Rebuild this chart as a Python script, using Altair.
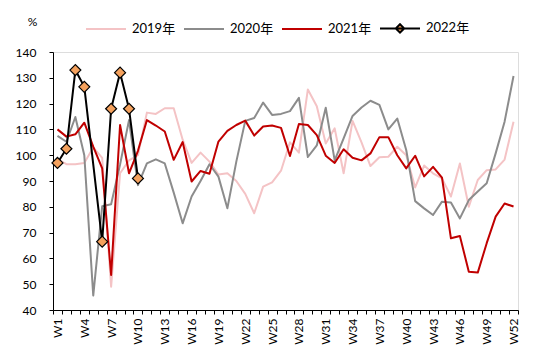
import altair as alt
import pandas as pd

weeks = list(range(1, 53))
series_names = ["2019年", "2020年", "2021年", "2022年"]

v2019 = [98.5, 96.5, 96.5, 97, 103, 99, 49, 93, 98, 100,
         116.5, 116, 118.2, 118.2, 106, 97, 101, 97.5, 92.5, 93,
         90, 85, 77.5, 87.8, 89.5, 94, 105, 101, 125.5, 119,
         104.5, 110.4, 93, 113.3, 105, 95.8, 99.2, 99.4, 103.3, 100,
         87.5, 96, 93, 91, 84, 96.8, 80, 90.4, 94.2, 94.5,
         98.3, 113]
v2020 = [107.5, 105.2, 114.8, 100, 45.6, 80.2, 81, 96.4, 113.6, 88.4,
         96.8, 98.4, 96.8, 85.5, 73.6, 84, 90, 96.5, 91.7, 79.4,
         97.5, 113.3, 114.4, 120.4, 115.6, 116, 117.1, 122.2, 99.3, 103.8,
         118.4, 98, 106.5, 115.2, 118.5, 121.1, 119.5, 110, 114.2, 102,
         82.2, 79.4, 76.8, 82, 81.7, 75.5, 82.6, 85.9, 89.1, 100.7,
         113, 130.7]
v2021 = [110, 107.2, 108.1, 112.6, 103.3, 94.9, 53.6, 111.7, 93, 101.7,
         113.6, 111.5, 109.2, 98.2, 105.1, 89.8, 93.9, 92.8, 105.3, 109.4,
         111.7, 113.4, 107.6, 111.1, 111.5, 110.6, 99.7, 112.1, 111.7, 107.8,
         99.8, 97, 102.3, 99, 98, 100.7, 107, 107, 100, 94.9,
         99.8, 91.8, 95.5, 91.3, 67.8, 68.7, 54.8, 54.5, 65.9, 76.2,
         81.3, 80.1]
v2022 = [97, 102.5, 133, 126.5, None, 66.5, 118, 132, 118, 91]

y_ticks = list(range(40, 141, 10))

rows = []
for name, vals in zip(series_names, [v2019, v2020, v2021, v2022]):
    for w, v in zip(weeks, vals):
        if v is not None:
            rows.append({"week": w, "series": name, "value": v})
df = pd.DataFrame(rows)

line_colors = ["#f4c3c5", "#8c8c8c", "#c00000", "#000000"]
legend_shapes = ["stroke", "stroke", "stroke",
                 "M-1,0L1,0M-0.21,0L0,-0.21L0.21,0L0,0.21Z"]

FONT = "Lato, Noto Sans CJK SC"

x_enc = alt.X(
    "week:O",
    scale=alt.Scale(type="band", paddingInner=0, paddingOuter=0),
    axis=alt.Axis(
        title=None,
        tickBand="extent",
        tickSize=4,
        labelAngle=-90,
        labelPadding=4,
        labelOverlap=False,
        labelExpr="(datum.value - 1) % 3 == 0 ? 'W' + datum.value : ''",
        labelFont=FONT,
        labelFontSize=12,
        labelColor="#000000",
        domainColor="#000000",
        tickColor="#000000",
        grid=False,
    ),
)
y_enc = alt.Y(
    "value:Q",
    scale=alt.Scale(domain=[40, 140], nice=False, zero=False),
    axis=alt.Axis(
        values=y_ticks,
        title="%",
        titleAngle=0,
        titleX=-21,
        titleY=-31,
        titleAlign="center",
        titleBaseline="middle",
        titleFont=FONT,
        titleFontSize=12,
        titleFontWeight="normal",
        titleColor="#000000",
        tickSize=4,
        labelPadding=13,
        labelFont=FONT,
        labelFontSize=12,
        labelColor="#000000",
        domainColor="#000000",
        tickColor="#000000",
        grid=False,
    ),
)

legend_def = alt.Legend(
    title=None,
    orient="none",
    legendX=32,
    legendY=-45,
    direction="horizontal",
    columns=4,
    padding=0,
    symbolSize=1600,
    symbolStrokeWidth=2,
    symbolFillColor="#f4a15d",
    labelFont=FONT,
    labelFontSize=13,
    labelColor="#000000",
    labelOffset=5,
    columnPadding=4,
)

stroke_scale = alt.Scale(domain=series_names, range=line_colors)

lines = alt.Chart(df).mark_line(strokeWidth=2, strokeJoin="round").encode(
    x=x_enc,
    y=y_enc,
    stroke=alt.Stroke("series:N", scale=stroke_scale, legend=legend_def),
)

points = alt.Chart(df).transform_filter(alt.datum.series == "2022年").mark_point(
    shape="diamond", filled=True, fill="#f4a15d", stroke="#000000",
    strokeWidth=1.2, size=120, opacity=1
).encode(x=x_enc, y=y_enc)

legend_layer = alt.Chart(df).transform_filter("false").mark_point(
    filled=True, fill="#f4a15d", strokeWidth=2, opacity=1
).encode(
    x=x_enc,
    y=y_enc,
    stroke=alt.Stroke("series:N", scale=stroke_scale, legend=legend_def),
    shape=alt.Shape("series:N", scale=alt.Scale(domain=series_names, range=legend_shapes),
                    legend=legend_def),
)

chart = alt.layer(legend_layer, lines, points).properties(
    width=465,
    height=258,
    autosize=alt.AutoSizeParams(type="none"),
    padding={"left": 53, "top": 52, "right": 32, "bottom": 44},
).configure_view(stroke=None).configure(background="#ffffff")

chart.save("out.html", embed_options={"renderer": "svg", "actions": False})
